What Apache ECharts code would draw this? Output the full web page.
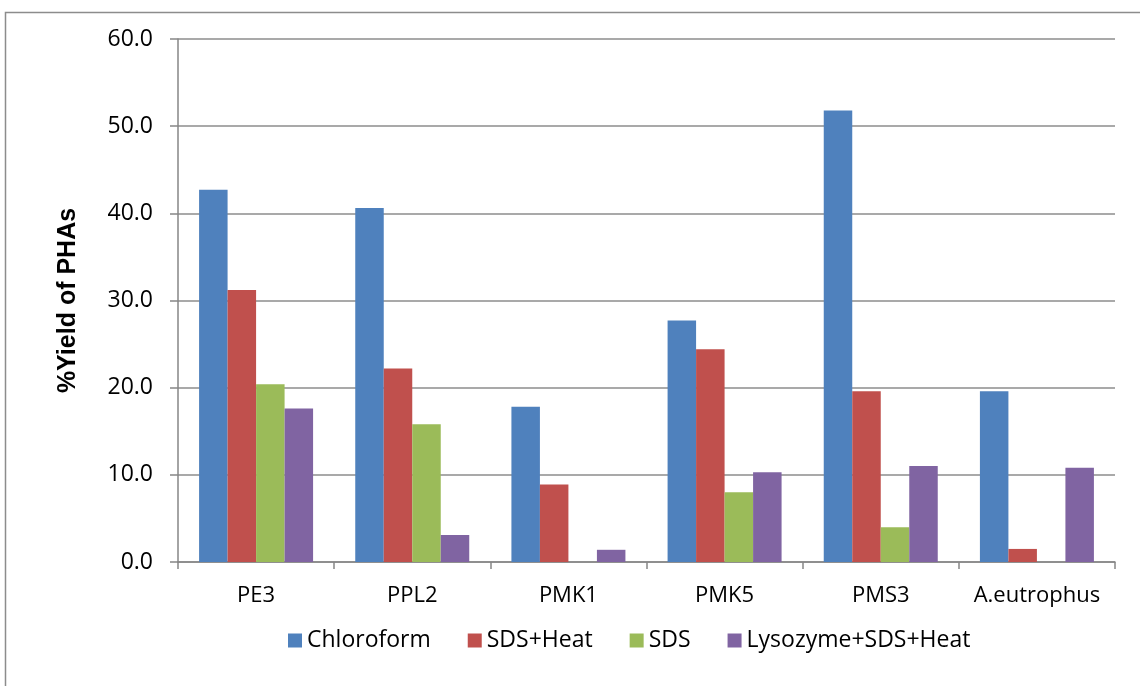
<!DOCTYPE html>
<html>
<head>
<meta charset="utf-8">
<script src="https://cdn.jsdelivr.net/npm/echarts@6/dist/echarts.min.js"></script>
<style>html,body{margin:0;padding:0;background:#fff;}#c{width:1140px;height:686px;}</style>
</head>
<body>
<div id="c"></div>
<script>
const categories = ['PE3', 'PPL2', 'PMK1', 'PMK5', 'PMS3', 'A.eutrophus'];
const chloroform = [42.7, 40.6, 17.8, 27.7, 51.8, 19.6];
const sdsHeat = [31.2, 22.2, 8.9, 24.4, 19.6, 1.5];
const sds = [20.4, 15.8, 0, 8.0, 4.0, 0];
const lysozyme = [17.6, 3.1, 1.4, 10.3, 11.0, 10.8];
const seriesNames = ['Chloroform', 'SDS+Heat', 'SDS', 'Lysozyme+SDS+Heat'];
const colors = ['#4F81BD', '#C0504D', '#9BBB59', '#8064A2'];
const yTicks = [0, 10, 20, 30, 40, 50, 60];

const chart = echarts.init(document.getElementById('c'), null, {renderer: 'canvas'});
const font = '"Open Sans", "Noto Sans", sans-serif';
const dataSets = [chloroform, sdsHeat, sds, lysozyme];
chart.setOption({
  animation: false,
  textStyle: {fontFamily: font},
  graphic: [{
    type: 'rect', left: 3, top: 10, silent: true,
    shape: {width: 1200, height: 800},
    style: {fill: 'none', stroke: '#8c8c8c', lineWidth: 1.5}
  }],
  grid: {left: 178, right: 25, top: 39, bottom: 124, containLabel: false},
  legend: {
    data: seriesNames, top: 624, left: 283,
    itemWidth: 14, itemHeight: 14, itemGap: 37,
    icon: 'rect',
    textStyle: {fontSize: 23, color: '#000', fontFamily: font, padding: [0, 0, 0, 0]}
  },
  xAxis: {
    type: 'category', data: categories,
    axisLine: {lineStyle: {color: '#868686', width: 1.5}},
    axisTick: {show: true, length: 7, interval: 0, alignWithLabel: false, lineStyle: {color: '#868686', width: 1.5}},
    axisLabel: {fontSize: 22, color: '#000', margin: 23, interval: 0, fontFamily: font}
  },
  yAxis: {
    type: 'value', min: yTicks[0], max: yTicks[yTicks.length - 1], interval: 10,
    name: '%Yield of PHAs', nameLocation: 'middle', nameGap: 97,
    nameTextStyle: {fontSize: 25, fontWeight: 'bold', color: '#000', fontFamily: 'Liberation Sans, Arial, sans-serif'},
    axisLine: {show: true, lineStyle: {color: '#868686', width: 1.5}},
    axisTick: {show: true, length: 8, lineStyle: {color: '#868686', width: 1.5}},
    axisLabel: {fontSize: 23, color: '#000', margin: 25, fontFamily: font,
      formatter: v => v.toFixed(1)},
    splitLine: {show: true, lineStyle: {color: '#8c8c8c', width: 1.5}}
  },
  series: seriesNames.map((n, i) => ({
    name: n, type: 'bar', data: dataSets[i],
    barGap: '0%', barCategoryGap: '27%',
    itemStyle: {color: colors[i]}
  }))
});
</script>
</body>
</html>
